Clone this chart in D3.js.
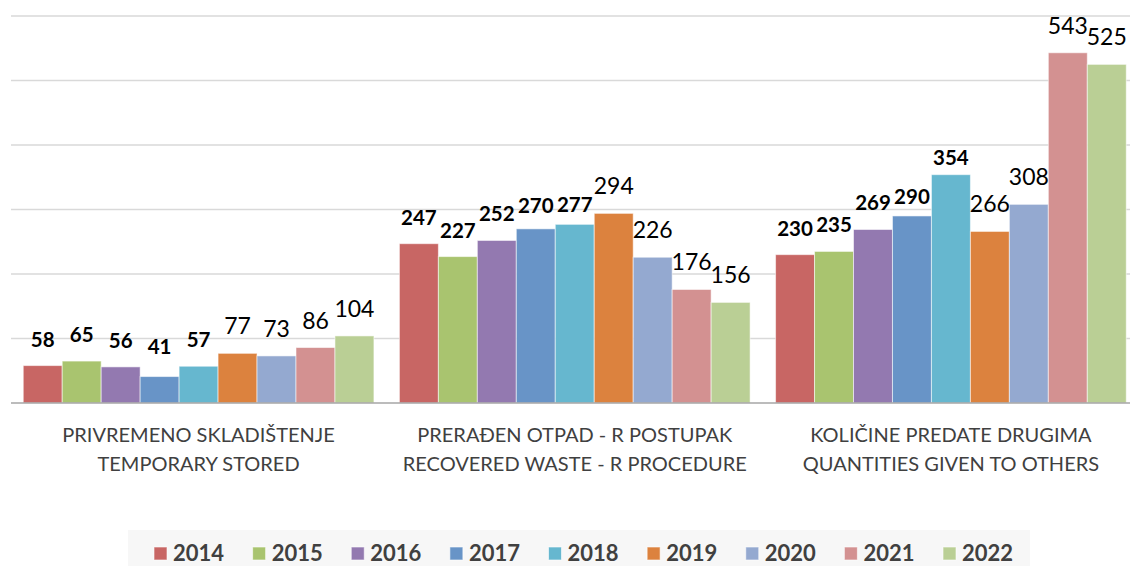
<!DOCTYPE html>
<html>
<head>
<meta charset="utf-8">
<script src="https://cdn.jsdelivr.net/npm/d3@7"></script>
<style>
  html, body { margin: 0; padding: 0; background: #fff; }
  svg { display: block; }
</style>
</head>
<body>
<svg id="chart" width="1130" height="566"></svg>
<script>
// ---- data ----
const categories = [
  ["PRIVREMENO SKLADIŠTENJE", "TEMPORARY STORED"],
  ["PRERAĐEN OTPAD - R POSTUPAK", "RECOVERED WASTE - R PROCEDURE"],
  ["KOLIČINE PREDATE DRUGIMA", "QUANTITIES GIVEN TO OTHERS"]
];
const years = ["2014", "2015", "2016", "2017", "2018", "2019", "2020", "2021", "2022"];
const temporaryStored = [58, 65, 56, 41, 57, 77, 73, 86, 104];
const recoveredWaste  = [247, 227, 252, 270, 277, 294, 226, 176, 156];
const givenToOthers   = [230, 235, 269, 290, 354, 266, 308, 543, 525];
const seriesByCategory = [temporaryStored, recoveredWaste, givenToOthers];
const gridTicks = [0, 100, 200, 300, 400, 500, 600];
const yearColors = ["#c86664", "#a9c46f", "#9379b0", "#6894c7", "#66b7cf", "#dc823e", "#94a9d0", "#d39191", "#bacf95"];
const boldYears = ["2014", "2015", "2016", "2017", "2018"];

// ---- layout ----
const svg = d3.select("#chart");
const baseY = 403, topY = 16;
const y = d3.scaleLinear().domain([0, 600]).range([baseY, topY]);
const catIdx = categories.map((c, i) => i);
const x0 = d3.scaleBand().domain(catIdx).range([10.5, 1139]).padding(0);
const x1 = d3.scaleBand().domain(years).range([0, x0.bandwidth()]).paddingInner(0).paddingOuter(0.327);
const color = d3.scaleOrdinal().domain(years).range(yearColors);
// manual label nudges (label placement as in the source, px)
const labelNudge = { "0-2017": -4, "1-2017": 3, "1-2018": 7, "2-2017": 7, "2-2018": 9 };

// gridlines
svg.append("g").selectAll("line")
  .data(gridTicks.filter(t => t > 0))
  .join("line")
  .attr("x1", 11).attr("x2", 1130)
  .attr("y1", d => y(d)).attr("y2", d => y(d))
  .attr("stroke", "#d9d9d9").attr("stroke-width", 1.5);

// bars
const groups = svg.append("g").selectAll("g")
  .data(catIdx)
  .join("g")
  .attr("transform", i => `translate(${x0(i)},0)`);

groups.selectAll("rect")
  .data(i => years.map((yr, j) => ({ i, yr, v: seriesByCategory[i][j] })))
  .join("rect")
  .attr("x", d => x1(d.yr))
  .attr("width", x1.bandwidth())
  .attr("y", d => y(d.v))
  .attr("height", d => baseY - y(d.v))
  .attr("fill", d => color(d.yr))
  .attr("stroke", "rgba(255,255,255,0.55)")
  .attr("stroke-width", 1);

// baseline
svg.append("line")
  .attr("x1", 11).attr("x2", 1130)
  .attr("y1", y(0)).attr("y2", y(0))
  .attr("stroke", "#a6a6a6").attr("stroke-width", 1.5);

// value labels
groups.selectAll("text.val")
  .data(i => years.map((yr, j) => ({ i, yr, v: seriesByCategory[i][j] })))
  .join("text")
  .attr("class", "val")
  .attr("x", d => x1(d.yr) + x1.bandwidth() / 2)
  .attr("y", d => y(d.v) - 19 + (labelNudge[d.i + "-" + d.yr] || 0))
  .attr("text-anchor", "middle")
  .attr("font-family", "Lato, 'Open Sans', sans-serif")
  .attr("font-size", d => boldYears.includes(d.yr) ? 20.5 : 23)
  .attr("font-weight", d => boldYears.includes(d.yr) ? 700 : 400)
  .attr("fill", "#000")
  .text(d => d.v);

// category labels
const catLabels = svg.append("g").selectAll("text")
  .data(catIdx)
  .join("text")
  .attr("x", i => x0(i) + x0.bandwidth() / 2)
  .attr("text-anchor", "middle")
  .attr("font-family", "Lato, 'Open Sans', sans-serif")
  .attr("font-size", 20)
  .attr("fill", "#404040");
catLabels.selectAll("tspan")
  .data(i => categories[i].map((t, k) => ({ t, k })))
  .join("tspan")
  .attr("x", function() { return this.parentNode.getAttribute("x"); })
  .attr("y", d => 442 + d.k * 29)
  .text(d => d.t);

// legend
svg.append("rect")
  .attr("x", 128).attr("y", 530).attr("width", 902).attr("height", 40)
  .attr("fill", "#f7f7f7");
const legX = d3.scalePoint().domain(years).range([154, 943]);
const leg = svg.append("g").selectAll("g")
  .data(years)
  .join("g")
  .attr("transform", d => `translate(${legX(d)},0)`);
leg.append("rect")
  .attr("x", 0).attr("y", 547).attr("width", 13).attr("height", 13)
  .attr("fill", d => color(d))
  .attr("stroke", "rgba(255,255,255,0.6)");
leg.append("text")
  .attr("x", 19).attr("y", 561)
  .attr("font-family", "Lato, 'Open Sans', sans-serif")
  .attr("font-size", 22)
  .attr("font-weight", 700)
  .attr("fill", "#404040")
  .text(d => d);
</script>
</body>
</html>
